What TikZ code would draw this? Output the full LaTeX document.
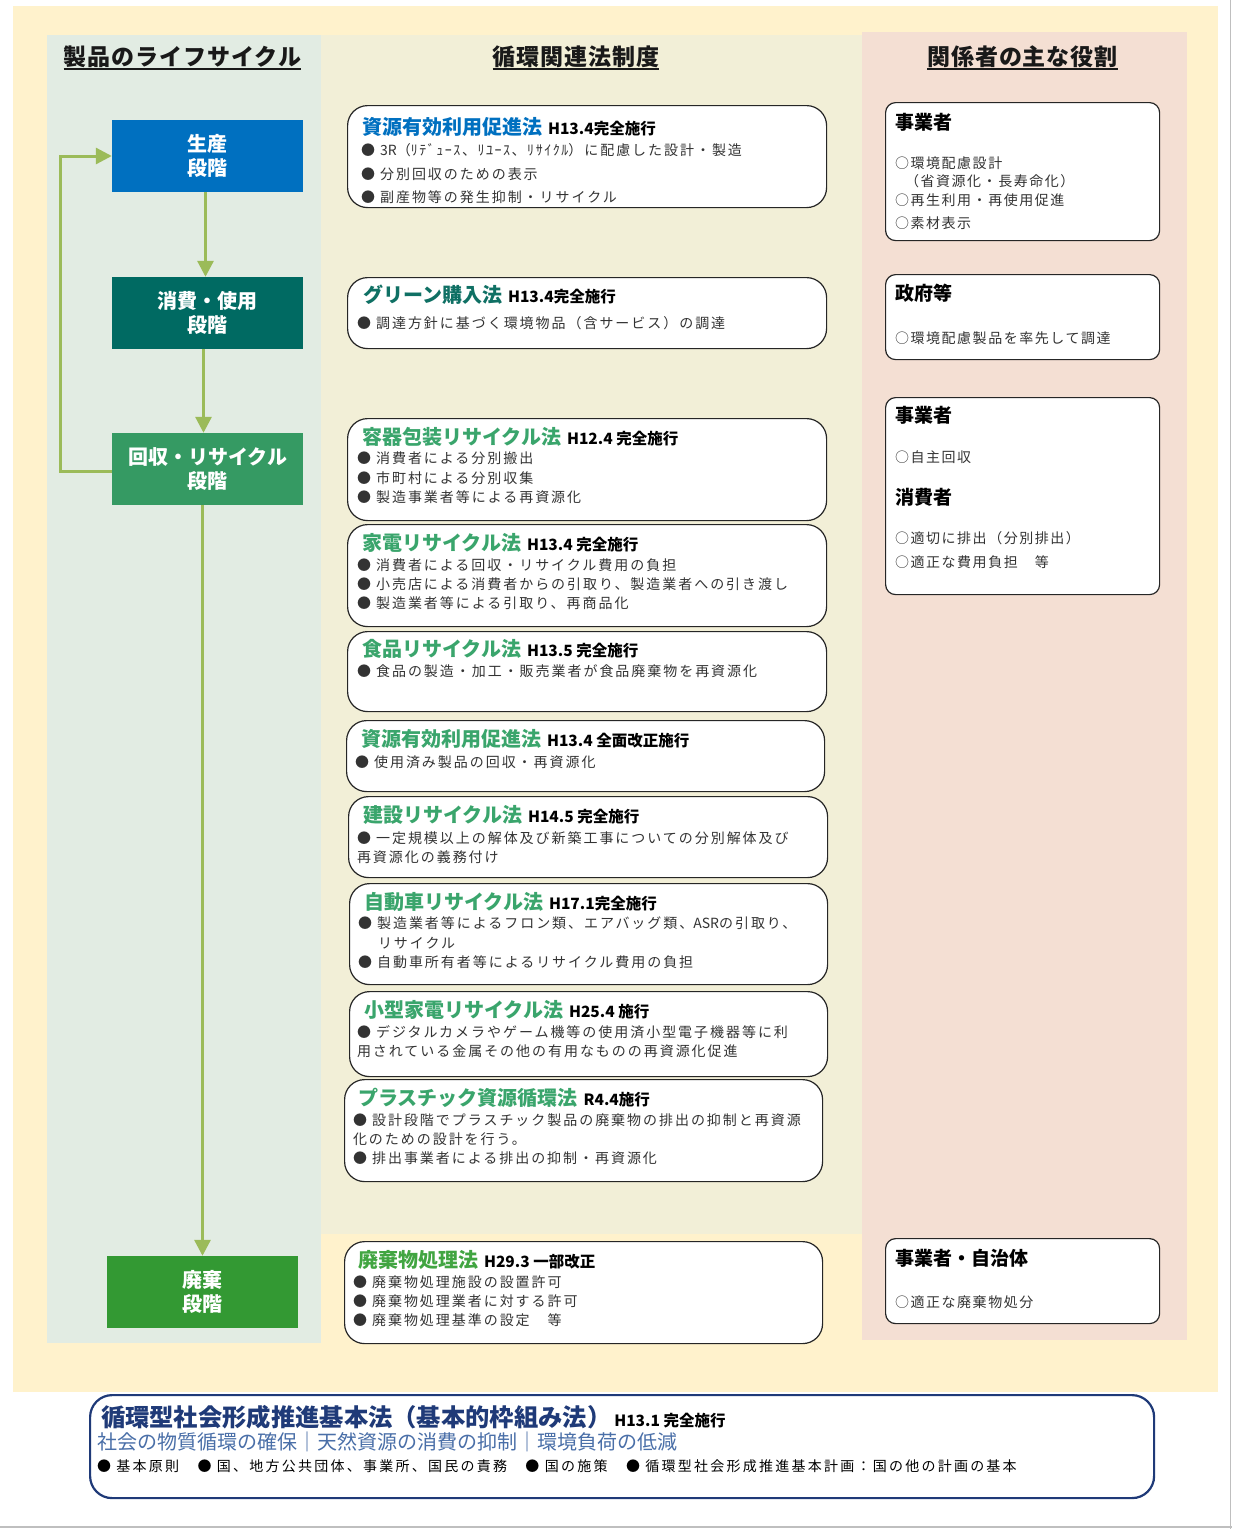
\documentclass[tikz,border=0pt]{standalone}
\usepackage{fontspec}
\setmainfont{Noto Sans CJK JP}
\newfontfamily\bodyf{Noto Sans CJK JP}[LetterSpace=14]
\newfontfamily\rolef{Noto Sans CJK JP}[LetterSpace=11]
\newfontfamily\plainf{Noto Sans CJK JP}
\newfontfamily\widef{Noto Sans CJK JP}[LetterSpace=16]
\newfontfamily\headf{Noto Sans CJK JP}[LetterSpace=4]
\usetikzlibrary{arrows.meta}
\definecolor{bgyellow}{HTML}{FFF2CC}
\definecolor{bgleft}{HTML}{E2ECE3}
\definecolor{bgmid}{HTML}{F2EFD7}
\definecolor{bgright}{HTML}{F4DFD3}
\definecolor{stblue}{HTML}{0070C0}
\definecolor{stteal}{HTML}{006A62}
\definecolor{stgreen}{HTML}{359A63}
\definecolor{stwaste}{HTML}{339933}
\definecolor{arrowgreen}{HTML}{9BBB59}
\definecolor{lawblue}{HTML}{0070C0}
\definecolor{lawteal}{HTML}{0F7064}
\definecolor{lawgreen}{HTML}{3AA56C}
\definecolor{lawwaste}{HTML}{41A541}
\definecolor{navyc}{HTML}{1F3A78}
\definecolor{slatec}{HTML}{4A6FA8}
\definecolor{txtgray}{HTML}{333333}
\newcommand\lawsub[1]{\hspace{6pt}{\fontsize{15.5}{17}\selectfont\color{black}#1}}
\begin{document}
\begin{tikzpicture}[x=1pt,y=-1pt,
  stage/.style={minimum width=191pt, minimum height=72pt, inner sep=0pt, align=center,
    text=white, font=\fontsize{20}{24}\selectfont\bfseries},
  flow/.style={draw=arrowgreen, line width=3pt, -{Triangle[width=16pt,length=16pt]}},
  lawbox/.style={draw=black!85, line width=1.2pt, fill=white, rounded corners=20pt,
    anchor=north west, inner sep=0pt},
  rolebox/.style={draw=black!85, line width=1.2pt, fill=white, rounded corners=10pt,
    anchor=north west, inner sep=0pt, minimum width=274pt},
  txt/.style={anchor=base west, inner sep=0pt, outer sep=0pt},
  ltitle/.style={txt, font=\fontsize{20}{24}\selectfont\bfseries},
  bul/.style={txt, font=\bodyf\fontsize{14}{16}\selectfont, text=txtgray},
  rtitle/.style={txt, font=\fontsize{19}{22}\selectfont\bfseries, text=black},
  ritem/.style={txt, font=\rolef\fontsize{14}{16}\selectfont, text=txtgray},
  head/.style={anchor=base, inner sep=0pt, font=\headf\fontsize{23}{26}\selectfont\bfseries, text=black!90},
  uline/.style={line width=1.5pt, black!90}
]
\useasboundingbox (0,0) rectangle (1232,1529);
% backgrounds
\fill[white] (0,0) rectangle (1232,1529);
\fill[bgyellow] (13,6) rectangle (1218,1392);
\fill[bgleft] (47,35) rectangle (321,1343);
\fill[bgmid] (321,35) rectangle (862,1234);
\fill[bgright] (862,32) rectangle (1187,1340);
\draw[black!25, line width=1.5pt] (1230.5,0) -- (1230.5,1529);
\draw[black!25, line width=2.5pt] (0,1527) -- (1232,1527);

% headings
\node[head] (h1) at (182.5,65.7) {製品のライフサイクル};
\node[head] (h2) at (576,65.7) {循環関連法制度};
\node[head] (h3) at (1022.5,65.7) {関係者の主な役割};
\draw[uline] ([yshift=-3.5pt]h1.base west) -- ([yshift=-3.5pt]h1.base east);
\draw[uline] ([yshift=-3.5pt]h2.base west) -- ([yshift=-3.5pt]h2.base east);
\draw[uline] ([yshift=-3.5pt]h3.base west) -- ([yshift=-3.5pt]h3.base east);

% stages
\node[stage, fill=stblue] (s1) at (207.5,156) {生産\\段階};
\node[stage, fill=stteal] (s2) at (207.5,313) {消費・使用\\段階};
\node[stage, fill=stgreen] (s3) at (207.5,469) {回収・リサイクル\\段階};
\node[stage, fill=stwaste] (s4) at (202.5,1292) {廃棄\\段階};
\draw[flow] ([xshift=-2pt]s1.south) -- ([xshift=-2pt]s2.north);
\draw[flow] ([xshift=-4pt]s2.south) -- ([xshift=-4pt]s3.north);
\draw[flow] (s3.south -| s4.north) -- (s4.north);
\draw[flow] ([yshift=-2pt]s3.west) -- ++(-51,0) |- (s1.west);

% law boxes
\node[lawbox, minimum width=479pt, minimum height=102pt] (L1) at (347,105) {};
\node[ltitle, text=lawblue] (L1t) at (362,134.5) {資源有効利用促進法\lawsub{H13.4完全施行}};
\node[bul] (L1a) at (361,155.3) {● {\plainf 3R}（{\rolef ﾘﾃﾞｭｰｽ、ﾘﾕｰｽ、ﾘｻｲｸﾙ}）に配慮した設計・製造};
\node[bul] (L1b) at (361,179.3) {● 分別回収のための表示};
\node[bul] (L1c) at (361,202.3) {● 副産物等の発生抑制・リサイクル};

\node[lawbox, minimum width=479pt, minimum height=71pt] (L2) at (347,277) {};
\node[ltitle, text=lawteal] (L2t) at (363,302.6) {グリーン購入法\lawsub{H13.4完全施行}};
\node[bul] (L2a) at (357,328.3) {● 調達方針に基づく環境物品（含サービス）の調達};

\node[lawbox, minimum width=479pt, minimum height=102pt] (L3) at (347,418) {};
\node[ltitle, text=lawgreen] (L3t) at (362,444.6) {容器包装リサイクル法\lawsub{H12.4 完全施行}};
\node[bul] (L3a) at (357,463.3) {● 消費者による分別搬出};
\node[bul] (L3b) at (357,483.3) {● 市町村による分別収集};
\node[bul] (L3c) at (357,502.3) {● 製造事業者等による再資源化};

\node[lawbox, minimum width=479pt, minimum height=102pt] (L4) at (347,524) {};
\node[ltitle, text=lawgreen] (L4t) at (362,550.6) {家電リサイクル法\lawsub{H13.4 完全施行}};
\node[bul] (L4a) at (357,570.3) {● 消費者による回収・リサイクル費用の負担};
\node[bul] (L4b) at (357,589.3) {● 小売店による消費者からの引取り、製造業者への引き渡し};
\node[bul] (L4c) at (357,608.3) {● 製造業者等による引取り、再商品化};

\node[lawbox, minimum width=479pt, minimum height=80pt] (L5) at (347,631) {};
\node[ltitle, text=lawgreen] (L5t) at (362,656.6) {食品リサイクル法\lawsub{H13.5 完全施行}};
\node[bul] (L5a) at (357,676.3) {● 食品の製造・加工・販売業者が食品廃棄物を再資源化};

\node[lawbox, minimum width=478pt, minimum height=71pt] (L6) at (346,720) {};
\node[ltitle, text=lawgreen] (L6t) at (361,746.6) {資源有効利用促進法\lawsub{H13.4 全面改正施行}};
\node[bul] (L6a) at (355,767.3) {● 使用済み製品の回収・再資源化};

\node[lawbox, minimum width=479pt, minimum height=81pt] (L7) at (348,796) {};
\node[ltitle, text=lawgreen] (L7t) at (363,822.6) {建設リサイクル法\lawsub{H14.5 完全施行}};
\node[bul] (L7a) at (357,843.3) {● 一定規模以上の解体及び新築工事についての分別解体及び};
\node[bul] (L7b) at (357,862.3) {再資源化の義務付け};

\node[lawbox, minimum width=478pt, minimum height=101pt] (L8) at (349,883) {};
\node[ltitle, text=lawgreen] (L8t) at (364,909.6) {自動車リサイクル法\lawsub{H17.1完全施行}};
\node[bul] (L8a) at (358,928.3) {● 製造業者等によるフロン類、エアバッグ類、{\plainf ASR}の引取り、};
\node[bul] (L8b) at (378,948.3) {リサイクル};
\node[bul] (L8c) at (358,967.3) {● 自動車所有者等によるリサイクル費用の負担};

\node[lawbox, minimum width=478pt, minimum height=85pt] (L9) at (349,991) {};
\node[ltitle, text=lawgreen] (L9t) at (364,1017.6) {小型家電リサイクル法\lawsub{H25.4 施行}};
\node[bul] (L9a) at (357,1037.3) {● デジタルカメラやゲーム機等の使用済小型電子機器等に利};
\node[bul] (L9b) at (357,1056.3) {用されている金属その他の有用なものの再資源化促進};

\node[lawbox, minimum width=478pt, minimum height=102pt] (L10) at (344,1079) {};
\node[ltitle, text=lawgreen] (L10t) at (358,1105.6) {プラスチック資源循環法\lawsub{R4.4施行}};
\node[bul] (L10a) at (353,1125.3) {● 設計段階でプラスチック製品の廃棄物の排出の抑制と再資源};
\node[bul] (L10b) at (353,1144.3) {化のための設計を行う。};
\node[bul] (L10c) at (353,1163.3) {● 排出事業者による排出の抑制・再資源化};

\node[lawbox, minimum width=478pt, minimum height=102pt] (L11) at (344,1241) {};
\node[ltitle, text=lawwaste] (L11t) at (358,1267.6) {廃棄物処理法\lawsub{H29.3 一部改正}};
\node[bul] (L11a) at (353,1287.3) {● 廃棄物処理施設の設置許可};
\node[bul] (L11b) at (353,1306.3) {● 廃棄物処理業者に対する許可};
\node[bul] (L11c) at (353,1325.3) {● 廃棄物処理基準の設定　等};

% role boxes
\node[rolebox, minimum height=138pt] (R1) at (885,102) {};
\node[rtitle] (R1t) at (895,129.2) {事業者};
\node[ritem] (R1a) at (895,168.3) {○環境配慮設計};
\node[ritem] (R1b) at (905,186.3) {（省資源化・長寿命化）};
\node[ritem] (R1c) at (895,205.3) {○再生利用・再使用促進};
\node[ritem] (R1d) at (895,228.3) {○素材表示};

\node[rolebox, minimum height=85pt] (R2) at (885,274) {};
\node[rtitle] (R2t) at (895,300.2) {政府等};
\node[ritem] (R2a) at (895,343.3) {○環境配慮製品を率先して調達};

\node[rolebox, minimum height=197pt] (R3) at (885,397) {};
\node[rtitle] (R3t) at (895,422.2) {事業者};
\node[ritem] (R3a) at (895,462.3) {○自主回収};
\node[rtitle] (R3u) at (895,504.2) {消費者};
\node[ritem] (R3b) at (895,543.3) {○適切に排出（分別排出）};
\node[ritem] (R3c) at (895,567.3) {○適正な費用負担　等};

\node[rolebox, minimum height=85pt] (R4) at (885,1238) {};
\node[rtitle] (R4t) at (895,1265.2) {事業者・自治体};
\node[ritem] (R4a) at (895,1307.3) {○適正な廃棄物処分};

% basic law box
\node[draw=navyc, line width=2.2pt, fill=white, rounded corners=22pt, anchor=north west,
  inner sep=0pt, minimum width=1064pt, minimum height=103pt] (B) at (89,1394) {};
\node[txt, text=navyc, font=\fontsize{24.3}{27}\selectfont\bfseries] (Bt) at (101,1426)
  {循環型社会形成推進基本法（基本的枠組み法）\hspace{3pt}{\fontsize{15.5}{17}\selectfont\color{black}H13.1 完全施行}};
\node[txt, text=slatec, font=\fontsize{20}{22}\selectfont] (Bs) at (97,1449.6)
  {社会の物質循環の確保｜天然資源の消費の抑制｜環境負荷の低減};
\node[txt, text=black, font=\widef\fontsize{14}{16}\selectfont] (Bb) at (97,1471.3)
  {● 基本原則　● 国、地方公共団体、事業所、国民の責務　● 国の施策　● 循環型社会形成推進基本計画：国の他の計画の基本};
\end{tikzpicture}
\end{document}
